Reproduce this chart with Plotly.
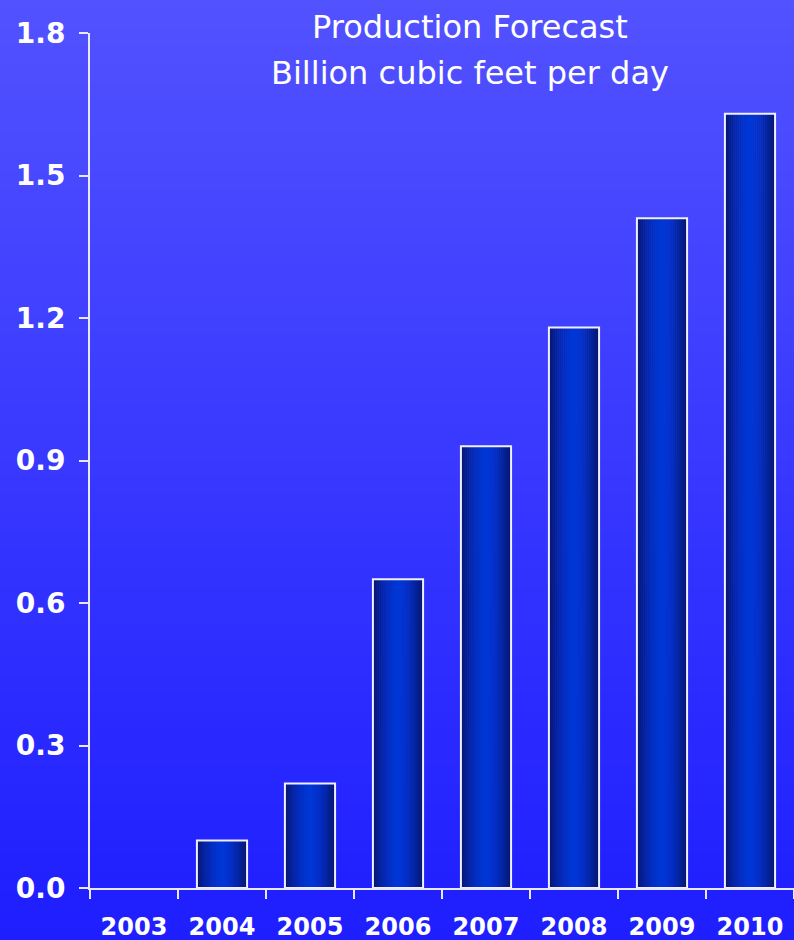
import base64, struct, zlib
import plotly.graph_objects as go

years = ["2003", "2004", "2005", "2006", "2007", "2008", "2009", "2010"]
production = [0.0, 0.10, 0.22, 0.65, 0.93, 1.18, 1.41, 1.63]
y_ticks = [0.0, 0.3, 0.6, 0.9, 1.2, 1.5, 1.8]
title_line1 = "Production Forecast"
title_line2 = "Billion cubic feet per day"

W, H = 794, 940
L, R, T, B = 90, 0, 33, 52


def png_gradient(top, bottom, n=256):
    rows = b""
    for i in range(n):
        t = i / (n - 1)
        c = [round(top[k] + (bottom[k] - top[k]) * t) for k in range(3)]
        rows += b"\x00" + bytes(c)
    def chunk(tag, data):
        return struct.pack(">I", len(data)) + tag + data + struct.pack(">I", zlib.crc32(tag + data) & 0xffffffff)
    png = b"\x89PNG\r\n\x1a\n"
    png += chunk(b"IHDR", struct.pack(">IIBBBBB", 1, n, 8, 2, 0, 0, 0))
    png += chunk(b"IDAT", zlib.compress(rows))
    png += chunk(b"IEND", b"")
    return "data:image/png;base64," + base64.b64encode(png).decode()


bg = png_gradient((82, 82, 255), (30, 30, 255))

fig = go.Figure()

bar_w = 0.57
N = 24
center = (0, 54, 215)
edge = (6, 22, 110)
for i in range(N):
    t = (i + 0.5) / N
    d = abs(t - 0.5) * 2
    f = d ** 1.5
    c = [round(center[k] + (edge[k] - center[k]) * f) for k in range(3)]
    fig.add_trace(go.Bar(
        x=years, y=production, width=bar_w / N + 0.002,
        offset=-bar_w / 2 + i * bar_w / N,
        marker=dict(color=f"rgb({c[0]},{c[1]},{c[2]})", line=dict(width=0)),
        showlegend=False, hoverinfo="skip"))

fig.add_trace(go.Bar(
    x=years, y=production, width=bar_w, offset=-bar_w / 2,
    marker=dict(color="rgba(0,0,0,0)",
                line=dict(color="#f0f0ff", width=[0 if v == 0 else 2 for v in production])),
    showlegend=False))

tick_font_x = dict(family="DejaVu Sans", size=24, color="white", weight="bold")
tick_font_y = dict(family="DejaVu Sans", size=28, color="white", weight="bold")
title_font = dict(family="DejaVu Sans", size=32, color="white")

fig.update_layout(
    width=W, height=H,
    margin=dict(l=L, r=R, t=T, b=B, autoexpand=False),
    barmode="overlay",
    paper_bgcolor="#3838ff",
    plot_bgcolor="rgba(0,0,0,0)",
    images=[dict(source=bg, xref="paper", yref="paper",
                 x=-L / (W - L - R), y=1 + T / (H - T - B),
                 sizex=W / (W - L - R), sizey=H / (H - T - B),
                 sizing="stretch", layer="below", xanchor="left", yanchor="top")],
    xaxis=dict(type="category", range=[-0.5, 7.5], showgrid=False,
               showline=True, linecolor="#e8e8ff", linewidth=2,
               ticks="outside", tickson="boundaries", ticklen=9, tickwidth=2,
               tickcolor="#e8e8ff", ticklabelstandoff=16, automargin=False,
               tickfont=tick_font_x, zeroline=False, fixedrange=True),
    yaxis=dict(range=[0, 1.8], tickvals=y_ticks, tickformat=".1f", showgrid=False,
               showline=True, linecolor="#e8e8ff", linewidth=2,
               ticks="outside", ticklen=9, tickwidth=2, tickcolor="#e8e8ff",
               ticklabelstandoff=8, automargin=False,
               tickfont=tick_font_y, zeroline=False, fixedrange=True),
    annotations=[
        dict(text=title_line1, xref="paper", yref="paper", x=(470 - L) / (W - L - R),
             y=1 + (T - 27) / (H - T - B), xanchor="center", yanchor="middle",
             showarrow=False, font=title_font),
        dict(text=title_line2, xref="paper", yref="paper", x=(470 - L) / (W - L - R),
             y=1 + (T - 73) / (H - T - B), xanchor="center", yanchor="middle",
             showarrow=False, font=title_font),
    ],
)

fig.write_html("out.html", config={"displayModeBar": False},
               post_script="document.body.style.margin='0';document.body.style.overflow='hidden';")
